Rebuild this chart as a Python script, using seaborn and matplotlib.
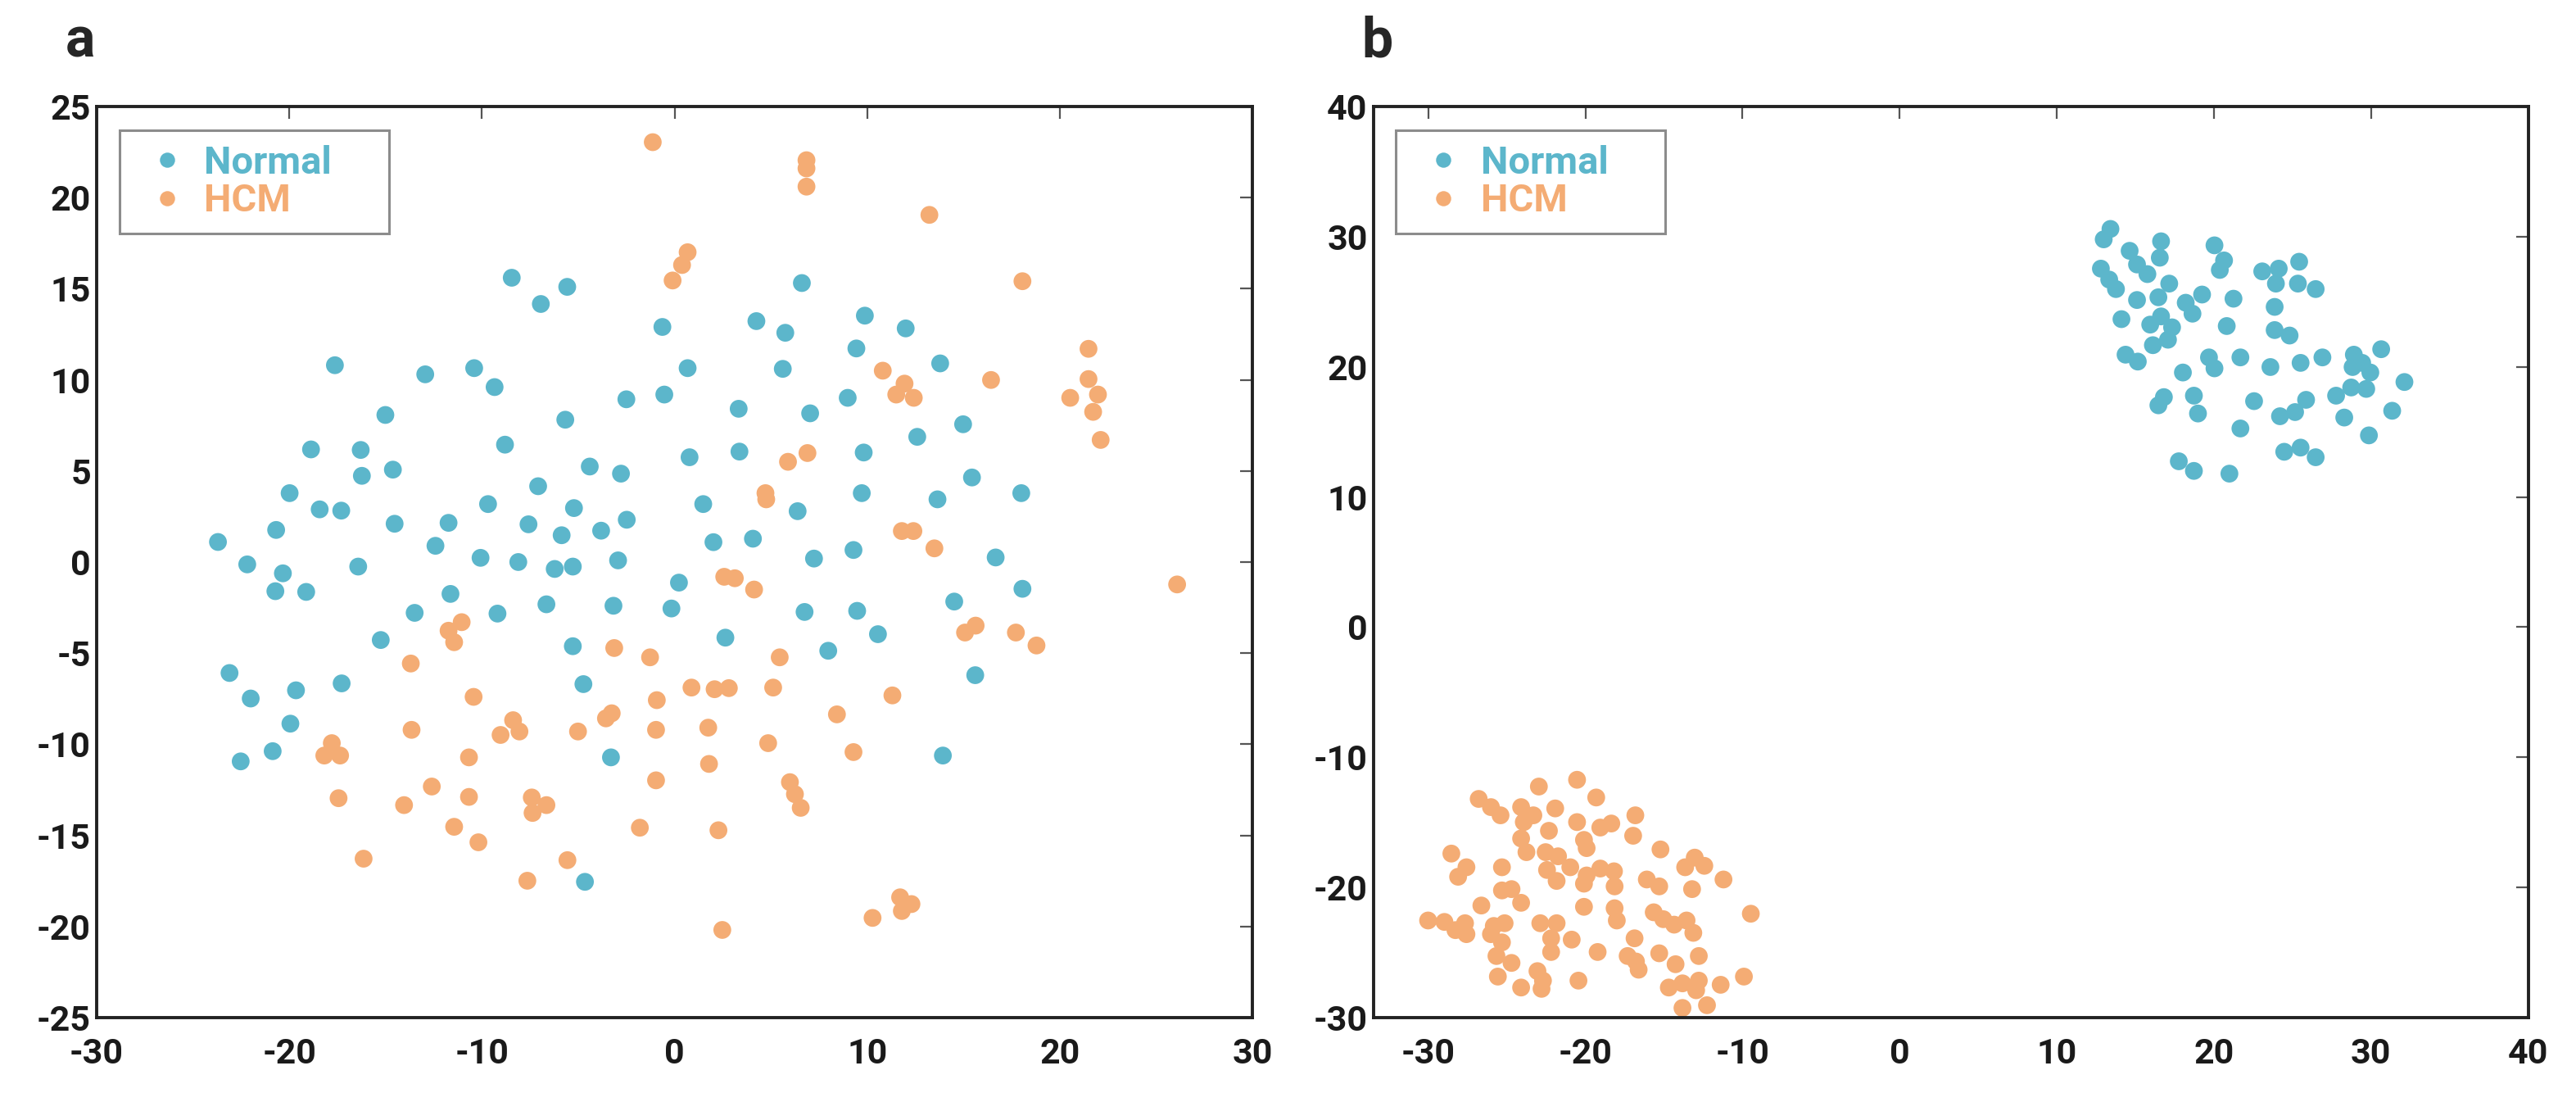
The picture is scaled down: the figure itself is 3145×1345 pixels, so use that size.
import numpy as np
import pandas as pd
import matplotlib
matplotlib.use("Agg")
import matplotlib.pyplot as plt
import seaborn as sns

# panel a: scattered embedding
a_normal_x = [-8.45, -6.94, -5.57, -0.63, -17.63, -12.94, -10.4, -9.34, 0.68, -2.5, -0.53, -15.01,
              -5.67, -8.8, -18.87, -16.29, 0.78, -4.4, -2.78, -16.23, -14.62, -7.08, -19.98, -9.68,
              -5.22, -18.42, -17.3, -2.48, -20.68, -14.53, -11.73, -7.58, -5.86, -3.81,
              -23.7, -12.41, -22.18, -20.33, -20.72, -19.12, -16.42, -10.07, -8.11, -6.22, -5.28,
              -2.93, 0.23, -0.16, -11.63, -13.49, -9.19, -6.65, -3.17, -15.25, -5.28, -23.1, -17.28,
              -22.0, -19.65, -4.73, -19.94, -20.86, -22.52, -3.3, -4.65,
              6.61, 9.88, 4.25, 5.75, 12.0, 9.44, 13.79, 5.62, 8.99, 3.33, 7.04, 14.98, 12.6, 3.37,
              9.82, 15.44, 9.72, 18.0, 1.49, 13.65, 6.39,
              2.02, 4.07, 9.29, 7.24, 16.67, 18.06, 14.52, 6.75, 9.48, 10.56, 2.64, 7.98, 15.61, 13.93]
a_normal_y = [15.6, 14.16, 15.1, 12.9, 10.8, 10.3, 10.64, 9.6, 10.64, 8.93, 9.19, 8.07,
              7.81, 6.44, 6.18, 6.15, 5.75, 5.24, 4.85, 4.73, 5.07, 4.16, 3.78, 3.18,
              2.96, 2.89, 2.82, 2.32, 1.76, 2.1, 2.15, 2.07, 1.47, 1.72,
              1.1, 0.89, -0.13, -0.62, -1.6, -1.64, -0.25, 0.23, 0.0, -0.38, -0.25,
              0.09, -1.13, -2.55, -1.75, -2.79, -2.83, -2.32, -2.4, -4.28, -4.62, -6.09, -6.66,
              -7.49, -7.04, -6.7, -8.87, -10.38, -10.94, -10.72, -17.55,
              15.31, 13.52, 13.22, 12.58, 12.82, 11.72, 10.9, 10.6, 9.01, 8.41, 8.16, 7.56, 6.87, 6.06,
              6.01, 4.64, 3.78, 3.78, 3.18, 3.44, 2.79,
              1.09, 1.28, 0.66, 0.19, 0.25, -1.47, -2.17, -2.74, -2.68, -3.96, -4.15, -4.87, -6.21, -10.62]

a_hcm_x = [-1.13, 0.68, 0.39, -0.1,
           6.85, 6.85, 6.85, 13.23, 18.06, 10.81, 16.43, 21.49, 21.49, 21.98, 20.54, 21.73, 22.12,
           11.94, 11.51, 12.42, 6.9, 5.89, 4.72, 4.76, 11.8, 12.4,
           -11.05, -11.73, -11.44, -3.13, -1.27, 0.88, -13.69, -10.43, -0.92, -3.26, -3.56, -13.65,
           -8.38, -9.03, -8.05, -5.01, -0.96, -17.79, -18.18, -17.36, -10.67, -0.96, -12.6, -10.67,
           -17.44, -14.04, -7.41, -6.65, -7.37, -11.44, -1.8, -10.18, -16.14, -5.56, -7.64,
           13.49, 2.58, 3.13, 4.13, 15.08, 15.63, 17.72, 18.79, 5.46, 2.08, 2.82, 5.12, 11.31, 8.43,
           1.75, 4.86, 9.29, 1.79, 5.99, 6.25, 6.55, 2.28, 11.71, 12.3, 11.8, 10.28, 2.48, 26.09]
a_hcm_y = [23.04, 17.0, 16.3, 15.45,
           22.05, 21.6, 20.6, 19.05, 15.41, 10.5, 9.99, 11.7, 10.04, 9.19, 9.01, 8.24, 6.7,
           9.79, 9.19, 9.01, 5.98, 5.5, 3.78, 3.44, 1.7, 1.7,
           -3.3, -3.77, -4.4, -4.72, -5.23, -6.89, -5.57, -7.4, -7.58, -8.3, -8.58, -9.21,
           -8.68, -9.49, -9.3, -9.3, -9.21, -9.94, -10.62, -10.62, -10.72, -11.98, -12.32, -12.89,
           -12.96, -13.34, -12.92, -13.34, -13.77, -14.53, -14.58, -15.38, -16.28, -16.36, -17.49,
           0.75, -0.81, -0.89, -1.51, -3.87, -3.49, -3.87, -4.58, -5.23, -6.98, -6.92, -6.89, -7.32, -8.36,
           -9.09, -9.94, -10.43, -11.08, -12.08, -12.74, -13.49, -14.72, -18.4, -18.77, -19.15, -19.53,
           -20.19, -1.23]

# panel b: two separated clusters
b_normal_x = [13.42, 12.99, 14.64, 16.64, 16.56, 15.11, 15.77, 12.81, 13.34, 13.77, 17.16, 16.47,
              15.11, 14.12, 15.95, 16.64, 17.34, 17.08, 16.12, 18.21, 19.25, 18.64, 20.04, 20.65,
              20.38, 21.25, 20.82, 23.08, 24.13, 23.95, 25.43, 25.35, 26.48, 23.87, 23.87, 24.82,
              14.38, 15.16, 18.03, 19.69, 20.04, 21.69, 23.60, 25.52, 26.91, 28.91, 28.83, 29.96,
              29.70, 28.74, 27.78, 29.44, 30.65, 32.13, 16.82, 16.47, 18.73, 18.99, 22.56, 24.21,
              25.17, 25.87, 28.30, 31.35, 21.69, 29.87, 24.48, 25.52, 26.48, 17.77, 18.73, 20.99]
b_normal_y = [30.59, 29.79, 28.91, 29.64, 28.38, 27.86, 27.12, 27.54, 26.70, 25.97, 26.39, 25.34,
              25.13, 23.66, 23.24, 23.87, 23.03, 22.08, 21.66, 24.92, 25.55, 24.08, 29.33, 28.17,
              27.44, 25.23, 23.13, 27.33, 27.54, 26.39, 28.07, 26.39, 25.97, 24.60, 22.82, 22.40,
              20.93, 20.40, 19.56, 20.72, 19.88, 20.72, 19.98, 20.30, 20.72, 20.93, 19.98, 19.56,
              18.30, 18.41, 17.78, 20.30, 21.35, 18.83, 17.67, 17.04, 17.78, 16.41, 17.36, 16.20,
              16.52, 17.46, 16.10, 16.62, 15.26, 14.73, 13.47, 13.79, 13.05, 12.74, 12.00, 11.79]

b_hcm_x = [-26.79, -26.01, -25.40, -22.96, -20.53, -19.31, -24.09, -23.31, -23.92, -21.92, -20.53,
           -19.05, -18.35, -16.82, -16.96, -24.09, -23.75, -22.32, -20.09, -19.92, -15.22,
           -28.53, -27.57, -28.10, -25.31, -22.53, -21.74, -20.96, -22.44, -21.83,
           -19.92, -19.05, -18.18, -20.09, -18.14, -16.09, -15.30, -13.65, -13.04, -12.43, -11.21,
           -13.21, -25.31, -24.70, -24.09, -26.62, -30.01, -28.97, -28.27, -27.66, -27.57,
           -25.83, -25.14, -26.01, -25.31, -25.66, -24.70, -22.87, -21.83, -22.18, -22.18, -20.87,
           -20.09, -18.14, -18.00, -15.65, -15.04, -14.35, -13.56, -13.13, -9.47, -19.22,
           -16.87, -17.31, -16.78, -16.61, -15.30, -14.26, -12.78, -25.57, -24.09, -23.05, -22.70,
           -22.79, -20.44, -14.69, -13.82, -12.78, -12.95, -11.39, -9.91, -13.82, -12.26]
b_hcm_y = [-13.20, -13.83, -14.46, -12.25, -11.73, -13.09, -13.83, -14.46, -14.98, -13.93, -14.98,
           -15.40, -15.09, -14.46, -16.03, -16.24, -17.29, -15.65, -16.35, -16.98, -17.08,
           -17.40, -18.45, -19.18, -18.45, -17.29, -17.61, -18.45, -18.66, -19.50,
           -19.08, -18.55, -18.76, -19.71, -19.92, -19.39, -19.92, -18.45, -17.71, -18.34, -19.39,
           -20.13, -20.23, -20.13, -21.18, -21.39, -22.54, -22.65, -23.28, -22.75, -23.59,
           -22.96, -22.75, -23.59, -24.22, -25.27, -25.80, -22.75, -22.75, -23.91, -24.96, -24.01,
           -21.49, -21.60, -22.54, -21.91, -22.44, -22.86, -22.54, -23.49, -22.02, -24.96,
           -23.91, -25.27, -25.69, -26.32, -25.06, -25.90, -25.27, -26.85, -27.69, -26.43, -27.16,
           -27.79, -27.16, -27.69, -27.37, -27.16, -27.90, -27.48, -26.85, -29.26, -29.05]

groups = ["Normal", "HCM"]
colors = {"Normal": "#5cb6cb", "HCM": "#f4ac74"}


def make_df(nx, ny, hx, hy):
    return pd.DataFrame({
        "x": nx + hx,
        "y": ny + hy,
        "group": ["Normal"] * len(nx) + ["HCM"] * len(hx),
    })


df_a = make_df(a_normal_x, a_normal_y, a_hcm_x, a_hcm_y)
df_b = make_df(b_normal_x, b_normal_y, b_hcm_x, b_hcm_y)

sns.set_style("white")
plt.rcParams["font.family"] = ["Roboto", "DejaVu Sans"]
plt.rcParams["axes.unicode_minus"] = False

fig = plt.figure(figsize=(31.45, 13.45), dpi=100)
ax_a = fig.add_axes([0.0375, 0.0766, 0.4487, 0.8268])
ax_b = fig.add_axes([0.5331, 0.0766, 0.4483, 0.8268])


def style(ax, df, xlim, ylim, xticks, yticks):
    sns.scatterplot(data=df, x="x", y="y", hue="group", hue_order=groups,
                    palette=colors, s=245, linewidth=0, alpha=1, ax=ax)
    ax.set_xlim(*xlim)
    ax.set_ylim(*ylim)
    ax.set_xticks(xticks)
    ax.set_yticks(yticks)
    ax.set_xlabel("")
    ax.set_ylabel("")
    for sp in ax.spines.values():
        sp.set_visible(True)
        sp.set_color("#222222")
        sp.set_linewidth(2.8)
    ax.tick_params(direction="in", length=11, width=1.6, color="#555555",
                   top=True, right=True, labelsize=31, labelcolor="#1a1a1a")
    ax.tick_params(axis="x", pad=17)
    ax.tick_params(axis="y", pad=5)
    for lab in ax.get_xticklabels() + ax.get_yticklabels():
        lab.set_fontweight("bold")

    # legend box stretched to a fixed width, like the reference
    handles, labels = ax.get_legend_handles_labels()
    leg = ax.legend(handles, labels, loc="upper left",
                    bbox_to_anchor=(0.0196, 0.974 - 0.108, 0.2333, 0.108),
                    mode="expand", borderaxespad=0, frameon=True, fancybox=False,
                    framealpha=1, edgecolor="#8c8c8c", fontsize=34, markerscale=0.85,
                    handletextpad=0.12, labelspacing=0.05, borderpad=0.38,
                    handlelength=1.7)
    leg.get_frame().set_linewidth(2.2)
    for txt, g in zip(leg.get_texts(), labels):
        txt.set_color(colors[g])
        txt.set_fontweight("bold")


style(ax_a, df_a, (-30, 30), (-25, 25), np.arange(-30, 31, 10), np.arange(-25, 26, 5))
style(ax_b, df_b, (-33.5, 40), (-30, 40), np.arange(-30, 41, 10), np.arange(-30, 41, 10))

fig.text(0.0254, 0.948, "a", fontsize=49, fontweight="bold", va="baseline", ha="left")
fig.text(0.5285, 0.948, "b", fontsize=49, fontweight="bold", va="baseline", ha="left")

fig.savefig("out.png", dpi=100, facecolor="white")
